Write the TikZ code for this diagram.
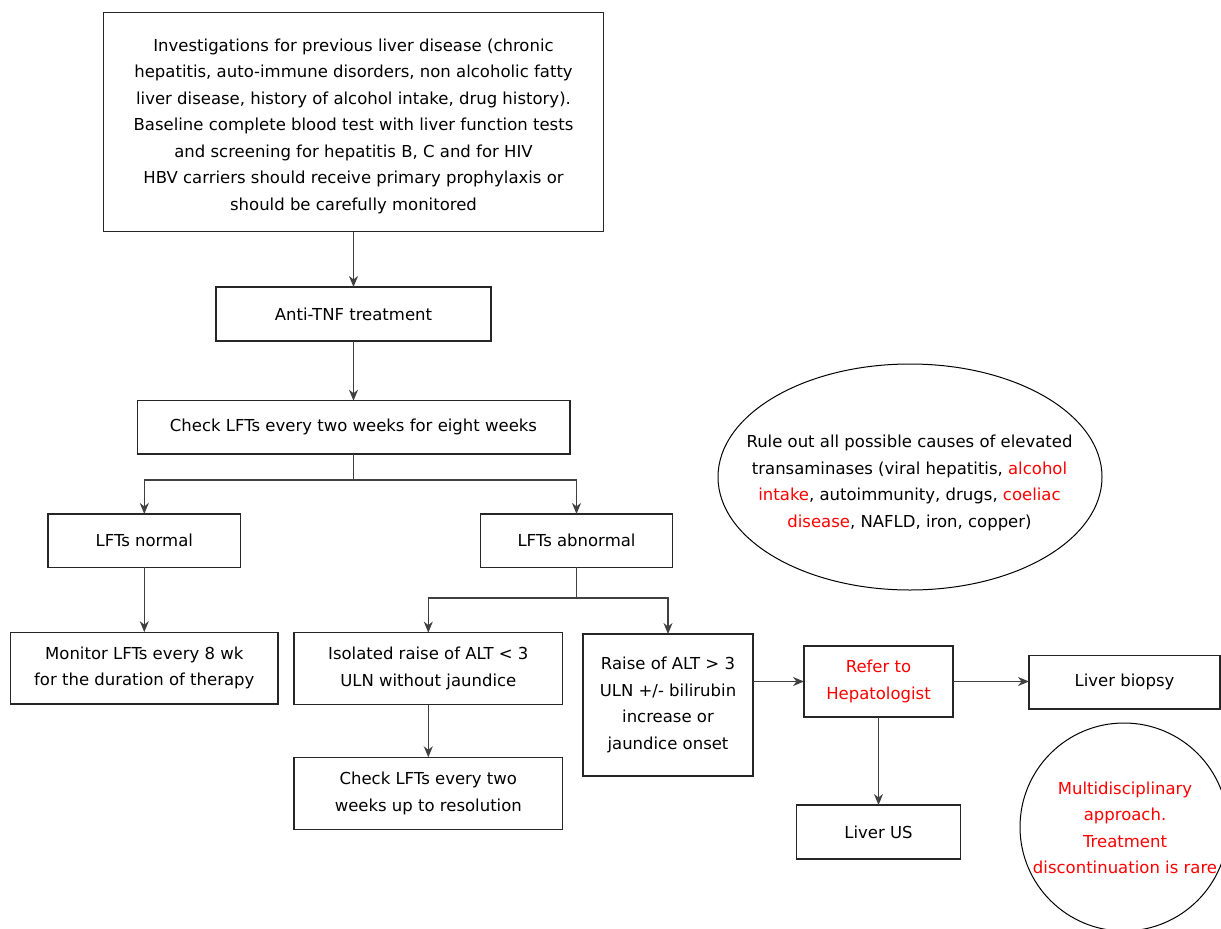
\documentclass[tikz,border=0pt]{standalone}
\usepackage{fontspec}
\setmainfont{DejaVu Sans}
\usetikzlibrary{arrows.meta,shapes.geometric}
\definecolor{hred}{RGB}{255,0,0}
\begin{document}
\begin{tikzpicture}[x=1pt,y=-1pt,
  every node/.style={font=\fontsize{16.5pt}{26.5pt}\selectfont, align=center, inner sep=0pt, outer sep=0pt},
  box/.style={draw=black!85, line width=1.3pt, rectangle},
  conn/.style={draw=black!75, line width=1.3pt},
  arr/.style={conn, -{Stealth[length=11pt,width=9pt,inset=3.5pt]}},
  oval/.style={draw=black, line width=1pt}
]
\useasboundingbox (0,0) rectangle (1221,929);

\node[box, minimum width=500.3pt, minimum height=219pt] (top) at (353.5,122.2) {};
\node (toptext) at (353.5,126)
  {Investigations for previous liver disease (chronic\\
   hepatitis, auto-immune disorders, non alcoholic fatty\\
   liver disease, history of alcohol intake, drug history).\\
   Baseline complete blood test with liver function tests\\
   and screening for hepatitis B, C and for HIV\\
   HBV carriers should receive primary prophylaxis or\\
   should be carefully monitored};

\node[box, minimum width=275pt, minimum height=54pt] (anti) at (353.5,314) {Anti-TNF treatment};
\node[box, minimum width=432.7pt, minimum height=53.3pt] (check) at (353.5,427.4) {Check LFTs every two weeks for eight weeks};
\node[box, minimum width=192.5pt, minimum height=53.5pt] (normal) at (144.3,540.7) {LFTs normal};
\node[box, minimum width=192.5pt, minimum height=53.5pt] (abn) at (576.5,540.7) {LFTs abnormal};
\node[box, minimum width=267.6pt, minimum height=71.7pt] (monitor) at (144.3,668) {Monitor LFTs every 8 wk\\for the duration of therapy};
\node[box, minimum width=268.7pt, minimum height=72pt] (iso) at (428.3,668.6) {Isolated raise of ALT < 3\\ULN without jaundice};
\node[box, minimum width=268.7pt, minimum height=72pt] (check2) at (428.3,793.3) {Check LFTs every two\\weeks up to resolution};
\node[box, minimum width=170pt, minimum height=142pt] (raise) at (668,705) {Raise of ALT > 3\\ULN +/- bilirubin\\increase or\\jaundice onset};
\node[box, minimum width=149pt, minimum height=71pt] (refer) at (878.5,681.5) {\textcolor{hred}{Refer to}\\\textcolor{hred}{Hepatologist}};
\node[box, minimum width=191pt, minimum height=53.3pt] (biopsy) at (1124.5,682.3) {Liver biopsy};
\node[box, minimum width=164.3pt, minimum height=54pt] (us) at (878.5,832) {Liver US};

\node[oval, ellipse, minimum width=384pt, minimum height=226pt] (rule) at (910,477) {};
\node (ruletext) at (909.5,483)
  {Rule out all possible causes of elevated\\
   transaminases (viral hepatitis, \textcolor{hred}{alcohol}\\
   \textcolor{hred}{intake}, autoimmunity, drugs, \textcolor{hred}{coeliac}\\
   \textcolor{hred}{disease}, NAFLD, iron, copper)};

\node[oval, circle, minimum size=208pt] (multi) at (1124,827) {};
\node[text=hred] (multitext) at (1125,828)
  {Multidisciplinary\\approach.\\Treatment\\discontinuation is rare};

\coordinate (b1) at (353.5,480);
\coordinate (b2) at (576.5,598);

\draw[arr] (top.south) -- (anti.north);
\draw[arr] (anti.south) -- (check.north);
\draw[conn] (check.south) -- (b1);
\draw[arr] (b1) -| (normal.north);
\draw[arr] (b1) -| (abn.north);
\draw[arr] (normal.south) -- (monitor.north);
\draw[conn] (abn.south) -- (b2);
\draw[arr] (b2) -| (iso.north);
\draw[arr] (b2) -| (raise.north);
\draw[arr] (iso.south) -- (check2.north);
\draw[arr] (raise.east |- refer.west) -- (refer.west);
\draw[arr] (refer.east) -- (refer.east -| biopsy.west);
\draw[arr] (refer.south) -- (us.north);
\end{tikzpicture}
\end{document}
